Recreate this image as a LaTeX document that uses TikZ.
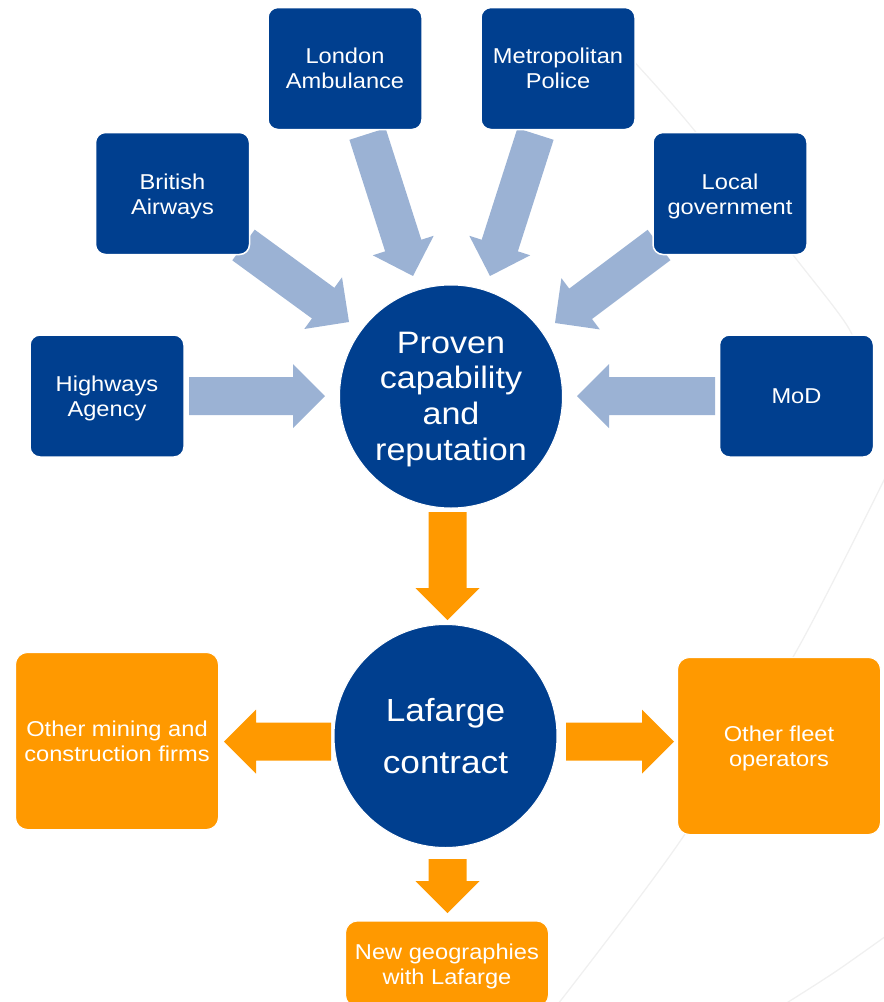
\documentclass[tikz,border=0pt]{standalone}
\usepackage{fontspec}
\usetikzlibrary{calc}
\newfontfamily\boxfont[FakeStretch=1.1]{Liberation Sans}
\definecolor{dblue}{HTML}{003F8F}
\definecolor{lblue}{HTML}{9BB2D4}
\definecolor{orng}{HTML}{FF9900}
\newcommand\blockarrow[3]{%
  \path let \p1=($(#3)-(#2)$) in \pgfextra{%
    \pgfmathsetmacro\baang{atan2(\y1,\x1)}%
    \pgfmathsetmacro\balen{veclen(\x1,\y1)}%
    \global\let\gbaang\baang\global\let\gbalen\balen};
  \begin{scope}[shift={(#2)},rotate=\gbaang]
    \fill[#1] (0pt,-19pt) -- ({\gbalen pt-32pt},-19pt) -- ({\gbalen pt-32pt},-32pt)
      -- ({\gbalen pt},0pt) -- ({\gbalen pt-32pt},32pt) -- ({\gbalen pt-32pt},19pt)
      -- (0pt,19pt) -- cycle;
  \end{scope}}
\tikzset{
  bluebox/.style={rectangle, rounded corners=10pt, fill=dblue, draw=white, line width=1.5pt,
    minimum width=154pt, minimum height=122pt, text=white, align=center,
    font={\boxfont\fontsize{21.5}{25}\selectfont}},
  orbox/.style={rectangle, rounded corners=12pt, fill=orng, draw=white, line width=1pt,
    minimum width=203pt, minimum height=177pt, text=white, align=center,
    font={\boxfont\fontsize{21.5}{25}\selectfont}},
  hub/.style={circle, fill=dblue, draw=white, line width=1pt, minimum size=223pt,
    inner sep=0pt, text=white, align=center},
  inarrow/.style={fill=lblue},
  outarrow/.style={fill=orng},
  bgline/.style={draw=black!6, line width=1.3pt}
}
\newcommand\lo{\rule{0pt}{21pt}}
\begin{document}
\begin{tikzpicture}[x=1pt,y=-1pt]
\useasboundingbox (0,0) rectangle (884,1002);
\clip (0,0) rectangle (884,1002);
% faint background curves
\draw[bgline] plot[smooth] coordinates {(628,55) (690,125) (797,260) (848,327) (866,372)};
\draw[bgline] plot[smooth] coordinates {(886,476) (797,650) (683,837) (558,1004)};
\draw[bgline] plot[smooth] coordinates {(886,936) (835,972) (785,1004)};
% arrow end coordinates
\coordinate (haT) at (189,396);   \coordinate (haH) at (325,396);
\coordinate (modT) at (715,396);  \coordinate (modH) at (577,396);
\coordinate (baT) at (243.5,245); \coordinate (baH) at (349,322);
\coordinate (laT) at (367.5,134); \coordinate (laH) at (413,276);
\coordinate (mpT) at (535.5,134); \coordinate (mpH) at (490,276);
\coordinate (lgT) at (659,245);   \coordinate (lgH) at (555,323);
\coordinate (pcT) at (447.5,512); \coordinate (pcH) at (447.5,620);
\coordinate (omT) at (331,741.5); \coordinate (omH) at (224,741.5);
\coordinate (ofT) at (566,741.5); \coordinate (ofH) at (674,741.5);
\coordinate (ngT) at (447.5,859); \coordinate (ngH) at (447.5,913);
% arrows
\blockarrow{inarrow}{haT}{haH}
\blockarrow{inarrow}{modT}{modH}
\blockarrow{inarrow}{baT}{baH}
\blockarrow{inarrow}{laT}{laH}
\blockarrow{inarrow}{mpT}{mpH}
\blockarrow{inarrow}{lgT}{lgH}
\blockarrow{outarrow}{pcT}{pcH}
\blockarrow{outarrow}{omT}{omH}
\blockarrow{outarrow}{ofT}{ofH}
\blockarrow{outarrow}{ngT}{ngH}
% nodes
\node[bluebox] (la) at (345,68.5) {London\\Ambulance};
\node[bluebox] (mp) at (558,68.5) {Metropolitan\\Police};
\node[bluebox] (ba) at (172.5,193.5) {\lo British\\Airways};
\node[bluebox] (lg) at (730,193.5) {\lo Local\\government};
\node[bluebox] (ha) at (107,396) {\lo Highways\\Agency};
\node[bluebox] (mod) at (796.5,396) {MoD};
\node[hub, font={\boxfont\fontsize{31}{35.7}\selectfont}] (pc) at (451,396.5) {\rule{0pt}{27pt}Proven\\capability\\and\\reputation};
\node[hub, font={\boxfont\fontsize{32}{52}\selectfont}] (lc) at (445.5,736) {Lafarge\\contract};
\node[orbox] (om) at (117,741) {Other mining and\\construction firms};
\node[orbox] (of) at (779,746) {\lo Other fleet\\operators};
\node[orbox, minimum height=86pt] (ng) at (447,964) {\lo New geographies\\with Lafarge};
\end{tikzpicture}
\end{document}
